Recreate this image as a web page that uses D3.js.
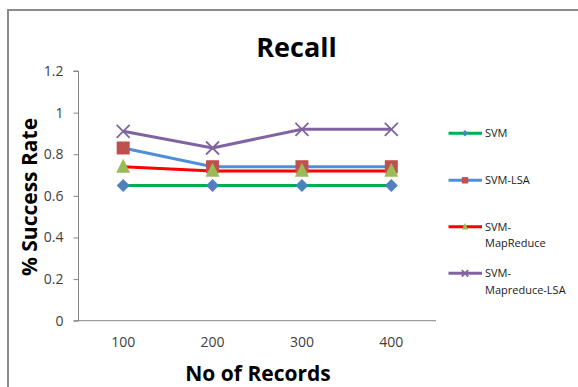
<!DOCTYPE html>
<html>
<head>
<meta charset="utf-8">
<script src="https://cdn.jsdelivr.net/npm/d3@7/dist/d3.min.js"></script>
<style>
  html, body { margin: 0; padding: 0; background: #fff; }
  svg { display: block; }
  text { font-family: "Open Sans", "DejaVu Sans", sans-serif; }
</style>
</head>
<body>
<script>
// Recall per number of records, four classifier variants
const records = ["100", "200", "300", "400"];
const svm = [0.65, 0.65, 0.65, 0.65];
const svmLsa = [0.83, 0.74, 0.74, 0.74];
const svmMapReduce = [0.74, 0.72, 0.72, 0.72];
const svmMapReduceLsa = [0.91, 0.83, 0.92, 0.92];
const yTicks = [0, 0.2, 0.4, 0.6, 0.8, 1, 1.2];
const legendLabels = [["SVM"], ["SVM-LSA"], ["SVM-", "MapReduce"], ["SVM-", "Mapreduce-LSA"]];

const W = 578, H = 387;
const svg = d3.select("body").append("svg").attr("width", W).attr("height", H);

// outer chart frame
svg.append("rect").attr("x", 8).attr("y", 10).attr("width", 600).attr("height", 420)
  .attr("fill", "#fff").attr("stroke", "#8a8a8a").attr("stroke-width", 2);

const plot = { left: 78.5, right: 436, top: 71, bottom: 320.7 };

const x = d3.scaleBand().domain(records).range([plot.left, plot.right]);
const y = d3.scaleLinear().domain([0, 1.2]).range([plot.bottom, plot.top]);
const cx = d => x(d) + x.bandwidth() / 2;

// y axis
const yAxis = svg.append("g").attr("transform", `translate(${plot.left},0)`)
  .call(d3.axisLeft(y).tickValues(yTicks).tickSize(5).tickPadding(10)
    .tickFormat(d => d3.format("")(d)));
yAxis.select(".domain").attr("stroke", "#868686").attr("d", `M-5,${plot.top}H0V${plot.bottom}`);
yAxis.selectAll(".tick line").attr("stroke", "#868686");
yAxis.selectAll(".tick text").attr("fill", "#404040").attr("font-size", 14);

// x axis
const xAxis = svg.append("g").attr("transform", `translate(0,${plot.bottom})`)
  .call(d3.axisBottom(x).tickSize(0).tickPadding(16));
xAxis.select(".domain").attr("stroke", "#868686").attr("d", `M${plot.left - 5},0H${plot.right}`);
xAxis.selectAll(".tick text").attr("fill", "#404040").attr("font-size", 14);

// titles
svg.append("text").attr("x", 296.5).attr("y", 56.5).attr("text-anchor", "middle")
  .attr("font-size", 27).attr("font-weight", "bold").attr("fill", "#000").text("Recall");
svg.append("text").attr("x", 258).attr("y", 381).attr("text-anchor", "middle")
  .attr("font-size", 21).attr("font-weight", "bold").attr("fill", "#000").text("No of Records");
svg.append("text").attr("transform", "translate(37,197) rotate(-90)").attr("text-anchor", "middle")
  .attr("font-size", 21).attr("font-weight", "bold").attr("fill", "#000").text("% Success Rate");

const series = [
  { values: svm, line: "#00b050", marker: "diamond", fill: "#4f81bd" },
  { values: svmLsa, line: "#4f8fd8", marker: "square", fill: "#c0504d" },
  { values: svmMapReduce, line: "#ff0000", marker: "triangle", fill: "#9bbb59" },
  { values: svmMapReduceLsa, line: "#8064a2", marker: "cross", fill: "#8064a2" }
];

function drawMarker(g, type, fill, s) {
  if (type === "diamond") {
    g.append("path").attr("d", `M0,${-s}L${s},0L0,${s}L${-s},0Z`).attr("fill", fill);
  } else if (type === "square") {
    g.append("rect").attr("x", -s).attr("y", -s).attr("width", 2 * s).attr("height", 2 * s).attr("fill", fill);
  } else if (type === "triangle") {
    g.append("path").attr("d", `M0,${-s * 1.15}L${s},${s * 0.85}L${-s},${s * 0.85}Z`).attr("fill", fill);
  } else {
    g.append("path").attr("d", `M${-s},${-s}L${s},${s}M${-s},${s}L${s},${-s}`)
      .attr("stroke", fill).attr("stroke-width", 1.8).attr("fill", "none");
  }
}

const line = d3.line().x((d, i) => cx(records[i])).y(d => y(d));
const markerSize = { diamond: 6.5, square: 6.5, triangle: 7, cross: 6.5 };

series.forEach(s => {
  svg.append("path").datum(s.values).attr("d", line)
    .attr("fill", "none").attr("stroke", s.line).attr("stroke-width", 3);
});
series.forEach(s => {
  s.values.forEach((v, i) => {
    const g = svg.append("g").attr("transform", `translate(${cx(records[i])},${y(v)})`);
    drawMarker(g, s.marker, s.fill, markerSize[s.marker]);
  });
});

// legend
const legendY = [133.3, 180.3, 226.7, 273.3];
series.forEach((s, i) => {
  const g = svg.append("g").attr("transform", `translate(0,${legendY[i]})`);
  g.append("line").attr("x1", 448.5).attr("x2", 482).attr("y1", 0).attr("y2", 0)
    .attr("stroke", s.line).attr("stroke-width", 3);
  const m = g.append("g").attr("transform", "translate(465,0)");
  drawMarker(m, s.marker, s.fill, 3.2);
  legendLabels[i].forEach((t, j) => {
    g.append("text").attr("x", 485).attr("y", j * 16.6 + 4).attr("font-size", 11)
      .attr("fill", "#1a1a1a").text(t);
  });
});
</script>
</body>
</html>
